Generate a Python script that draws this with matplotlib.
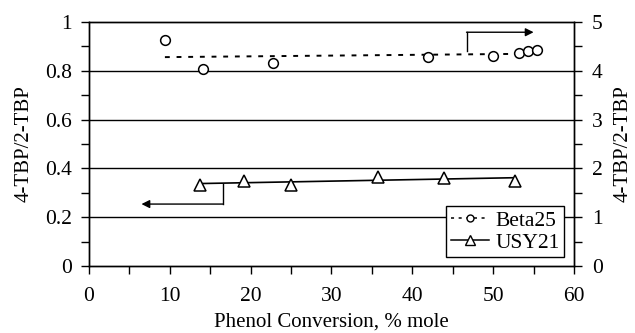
import matplotlib
matplotlib.use("Agg")

import matplotlib.pyplot as plt
from matplotlib.ticker import MultipleLocator, FuncFormatter

plt.rcParams["font.family"] = ["Liberation Serif", "DejaVu Serif"]

# Beta25 (right axis)
beta_x = [9.4, 14.1, 22.8, 42.0, 50.0, 53.2, 54.3, 55.4]
beta_y = [4.63, 4.03, 4.15, 4.29, 4.31, 4.37, 4.41, 4.42]
beta_trend_x = [9.4, 55.4]
beta_trend_y = [4.28, 4.35]

# USY21 (left axis)
usy_x = [13.7, 19.2, 25.0, 35.8, 43.9, 52.7]
usy_y = [0.333, 0.349, 0.333, 0.363, 0.362, 0.350]
usy_trend_x = [13.7, 52.7]
usy_trend_y = [0.338, 0.362]

# arrow guides (left-axis coordinates)
beta_arrow_x = [46.7, 46.7, 55.0]
beta_arrow_y = [0.881, 0.958, 0.958]
usy_arrow_x = [16.6, 16.6, 6.5]
usy_arrow_y = [0.335, 0.254, 0.254]

fig = plt.figure(figsize=(6.35, 3.33), dpi=100)
ax = fig.add_axes([0.140, 0.201, 0.764, 0.733])
ax2 = ax.twinx()

ax.set_xlim(0, 60)
ax.set_ylim(0, 1)
ax2.set_ylim(0, 5)

for y in [0.2, 0.4, 0.6, 0.8]:
    ax.axhline(y, color="black", lw=1.0, zorder=1)

# trend lines
ax2.plot(beta_trend_x, beta_trend_y, color="black", lw=1.4,
         dashes=(2.5, 3.5), zorder=2)
ax.plot(usy_trend_x, usy_trend_y, color="black", lw=1.2, zorder=2)

# markers
ax2.plot(beta_x, beta_y, ls="none", marker="o", ms=7, mfc="white",
         mec="black", mew=1.1, zorder=3)
ax.plot(usy_x, usy_y, ls="none", marker="^", ms=8, mfc="white",
        mec="black", mew=1.1, zorder=3)

# arrows pointing to the axis each series belongs to
ax.plot(beta_arrow_x[:2], beta_arrow_y[:2], color="black", lw=1.0)
ax.annotate("", xy=(beta_arrow_x[2], beta_arrow_y[2]),
            xytext=(beta_arrow_x[1], beta_arrow_y[1]),
            arrowprops=dict(arrowstyle="-|>", color="black", lw=1.0,
                            mutation_scale=12, shrinkA=0, shrinkB=0))
ax.plot(usy_arrow_x[:2], usy_arrow_y[:2], color="black", lw=1.0)
ax.annotate("", xy=(usy_arrow_x[2], usy_arrow_y[2]),
            xytext=(usy_arrow_x[1], usy_arrow_y[1]),
            arrowprops=dict(arrowstyle="-|>", color="black", lw=1.0,
                            mutation_scale=12, shrinkA=0, shrinkB=0))

# legend
h1, = ax.plot([], [], color="black", lw=1.1, dashes=(2, 3), marker="o",
              ms=5, mfc="white", mec="black", label="Beta25")
h2, = ax.plot([], [], color="black", lw=1.1, marker="^", ms=7,
              mfc="white", mec="black", label="USY21")
leg = ax2.legend(handles=[h1, h2], loc="lower right",
                 bbox_to_anchor=(0.98, 0.037), fontsize=15.5, frameon=True,
                 fancybox=False, edgecolor="black", framealpha=1,
                 handlelength=1.8, handletextpad=0.3, borderpad=0.2,
                 labelspacing=0.1, borderaxespad=0)
leg.get_frame().set_linewidth(1.0)

ax.xaxis.set_major_locator(MultipleLocator(10))
ax.xaxis.set_minor_locator(MultipleLocator(5))
ax.yaxis.set_major_locator(MultipleLocator(0.2))
ax.yaxis.set_minor_locator(MultipleLocator(0.1))
ax2.yaxis.set_major_locator(MultipleLocator(1))
ax2.yaxis.set_minor_locator(MultipleLocator(0.5))
ax.yaxis.set_major_formatter(FuncFormatter(lambda v, p: f"{v:g}"))

for a in (ax, ax2):
    a.tick_params(which="both", direction="out", colors="black",
                  labelsize=15.5, width=1.0, length=6)
    for s in a.spines.values():
        s.set_linewidth(1.0)
        s.set_color("black")
ax.tick_params(axis="x", pad=9)
ax.tick_params(axis="y", pad=6)
ax2.tick_params(axis="y", pad=7)

ax.set_xlabel("Phenol Conversion, % mole", fontsize=15, labelpad=5)
ax.set_ylabel("4-TBP/2-TBP", fontsize=15, labelpad=8)
ax2.set_ylabel("4-TBP/2-TBP", fontsize=15, rotation=90, labelpad=8)

fig.savefig("out.png", dpi=100)
